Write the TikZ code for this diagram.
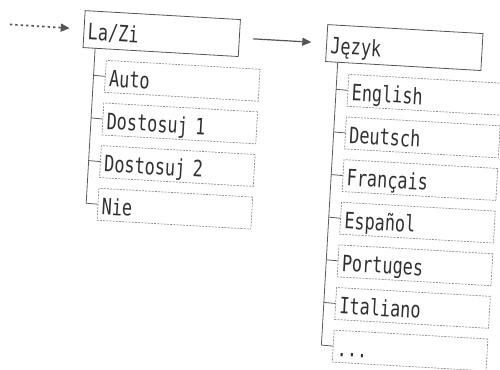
\documentclass[tikz,border=0pt]{standalone}
\usepackage{fontspec}
\newfontfamily\boxfont{DejaVu Sans Mono}[FakeStretch=0.75]
\usetikzlibrary{arrows.meta}
\definecolor{inkc}{HTML}{303030}
\definecolor{framec}{HTML}{555555}
\definecolor{dashc}{HTML}{8C8C8C}
\definecolor{treec}{HTML}{5C5C5C}
\begin{document}
\begin{tikzpicture}[x=1pt,y=-1pt,
  boxtext/.style={font=\boxfont\fontsize{22.5}{26}\selectfont, text=inkc, align=left, anchor=north west, inner xsep=4pt, inner ysep=0pt},
  mainbox/.style={boxtext, draw=framec, line width=0.8pt, text width=147.5pt, minimum height=37pt, text height=21pt, text depth=0pt},
  subbox/.style={boxtext, draw=dashc, line width=0.7pt, dash pattern=on 2pt off 1.2pt, text width=146pt, minimum height=32pt, text height=20pt, text depth=0pt},
  treeline/.style={draw=treec, line width=0.8pt},
  solidarrow/.style={draw=framec, line width=1.2pt, -{Triangle[length=9pt,width=8pt]}},
  dotarrow/.style={draw=framec, line width=1.7pt, dash pattern=on 2.4pt off 3pt, -{Triangle[length=9pt,width=8pt]}}
]
\useasboundingbox (0,0) rectangle (500,369);
\begin{scope}[rotate around={-3.3:(250,185)}, transform shape]
  % main boxes
  \node[mainbox] (lazi) at (75,20) {La/Zi};
  \node[mainbox] (jezyk) at (318,20) {Język};
  % left sub boxes
  \node[subbox] (auto) at (99,68.5) {Auto};
  \node[subbox] (dost1) at (99,111.2) {Dostosuj 1};
  \node[subbox] (dost2) at (99,153.9) {Dostosuj 2};
  \node[subbox] (nie) at (99,196.6) {Nie};
  % right sub boxes
  \node[subbox] (english) at (342,68.5) {English};
  \node[subbox] (deutsch) at (342,111.2) {Deutsch};
  \node[subbox] (francais) at (342,153.9) {Français};
  \node[subbox] (espanol) at (342,196.6) {Español};
  \node[subbox] (portuges) at (342,239.3) {Portuges};
  \node[subbox] (italiano) at (342,282.0) {Italiano};
  \node[subbox] (more) at (342,324.7) {...};
  % trunk coordinates
  \coordinate (lt0) at (87.5,57);
  \coordinate (lt1) at (87.5,84.5);
  \coordinate (lt2) at (87.5,127.2);
  \coordinate (lt3) at (87.5,169.9);
  \coordinate (lt4) at (87.5,212.6);
  \coordinate (rt0) at (330.5,57);
  \coordinate (rt1) at (330.5,84.5);
  \coordinate (rt2) at (330.5,127.2);
  \coordinate (rt3) at (330.5,169.9);
  \coordinate (rt4) at (330.5,212.6);
  \coordinate (rt5) at (330.5,255.3);
  \coordinate (rt6) at (330.5,298.0);
  \coordinate (rt7) at (330.5,340.7);
  \coordinate (instart) at (1,38.5);
  % left tree
  \draw[treeline] (lt0) -- (lt4) -- (nie.west);
  \draw[treeline] (lt1) -- (auto.west);
  \draw[treeline] (lt2) -- (dost1.west);
  \draw[treeline] (lt3) -- (dost2.west);
  % right tree
  \draw[treeline] (rt0) -- (rt7) -- (more.west);
  \draw[treeline] (rt1) -- (english.west);
  \draw[treeline] (rt2) -- (deutsch.west);
  \draw[treeline] (rt3) -- (francais.west);
  \draw[treeline] (rt4) -- (espanol.west);
  \draw[treeline] (rt5) -- (portuges.west);
  \draw[treeline] (rt6) -- (italiano.west);
  % arrows
  \draw[dotarrow, shorten >=14pt] (instart) -- (lazi.west);
  \draw[solidarrow, shorten <=13.5pt, shorten >=15pt] (lazi.east) -- (jezyk.west);
\end{scope}
\end{tikzpicture}
\end{document}
